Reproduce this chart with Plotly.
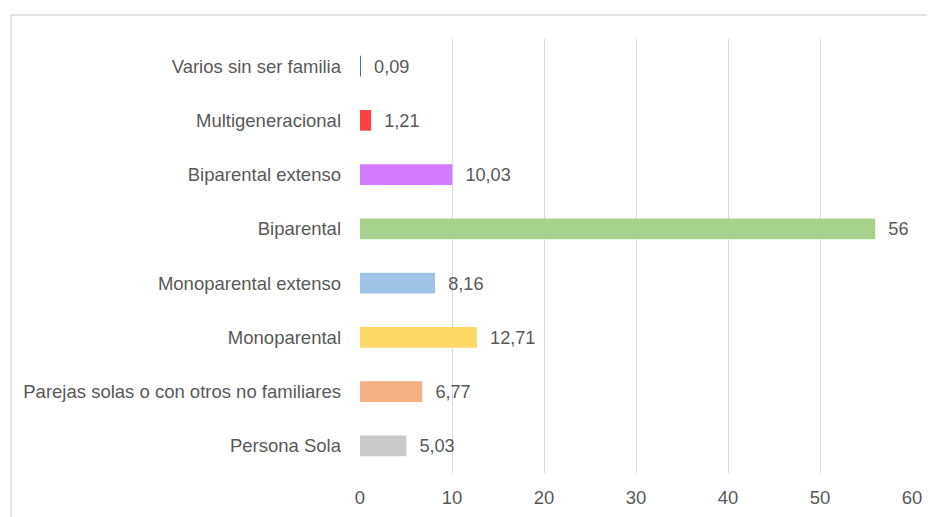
import plotly.graph_objects as go

categories = ["Persona Sola", "Parejas solas o con otros no familiares", "Monoparental",
              "Monoparental extenso", "Biparental", "Biparental extenso",
              "Multigeneracional", "Varios sin ser familia"]
values = [5.03, 6.77, 12.71, 8.16, 56, 10.03, 1.21, 0.09]
colors = ["#C9C9C9", "#F4B183", "#FFD966", "#9DC3E6", "#A9D18E", "#D47AFF", "#FF4040", "#4472C4"]
x_ticks = [0, 10, 20, 30, 40, 50, 60]

labels = ["  " + f"{v:g}".replace(".", ",") for v in values]

FONT = "Liberation Sans"
FS = 18.5
TXT = "#595959"

# page body has an 8px margin; compensate so the plot lands where the reference has it
OFF = 8
W, H = 935, 517
L, T = 360 - OFF, 39 - OFF
R = W - (912 - OFF)
B = H - (473 - OFF)
pw, ph = W - L - R, H - T - B

fig = go.Figure(go.Bar(
    x=values, y=categories, orientation="h",
    marker=dict(color=colors, line=dict(width=0)),
    width=0.38,
    text=labels, textposition="outside", cliponaxis=False,
    textfont=dict(family=FONT, size=FS, color=TXT),
))

fig.update_layout(
    width=W, height=H,
    margin=dict(l=L, r=R, t=T, b=B),
    paper_bgcolor="white", plot_bgcolor="white",
    showlegend=False,
    font=dict(family=FONT, size=FS, color=TXT),
    xaxis=dict(range=[0, 60], tickvals=x_ticks, showgrid=True, gridcolor="#D9D9D9",
               gridwidth=1, zeroline=False, showline=False, ticks="",
               tickfont=dict(family=FONT, size=FS, color=TXT), ticklabelstandoff=11,
               fixedrange=True),
    yaxis=dict(showgrid=False, zeroline=False, showline=False, ticks="",
               tickfont=dict(family=FONT, size=FS, color=TXT), ticklabelstandoff=18,
               range=[-0.5, 7.5]),
    shapes=[dict(type="rect", xref="paper", yref="paper",
                 x0=(11 - OFF - L) / pw, x1=(W + 10 - L) / pw,
                 y0=-(B + 10) / ph, y1=(H - B - (15 - OFF)) / ph,
                 line=dict(color="#D9D9D9", width=1.5), fillcolor="rgba(0,0,0,0)",
                 layer="below")],
)

fig.write_html("out.html")
